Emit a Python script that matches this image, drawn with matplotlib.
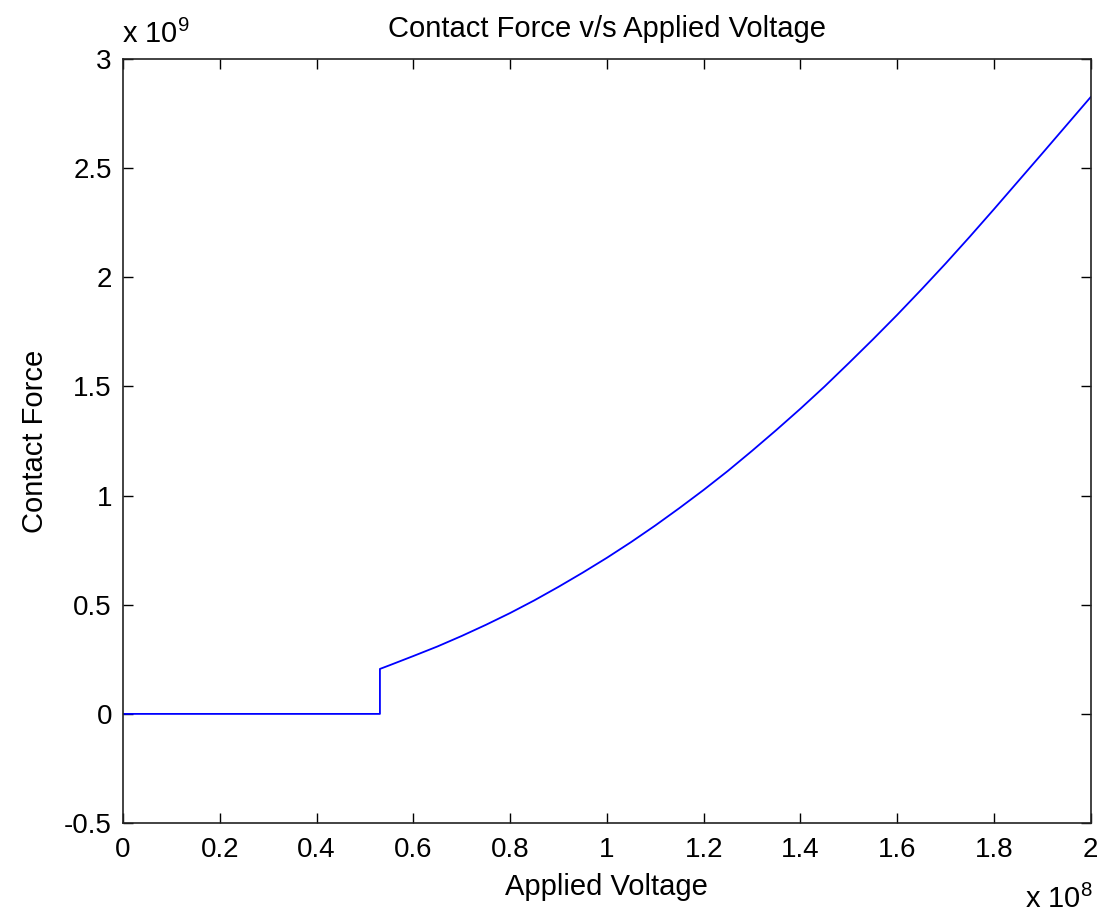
import matplotlib
matplotlib.use("Agg")
import matplotlib.pyplot as plt

# ── Data (voltage in units of 1e8, force in units of 1e9) ────────────────────
voltage = [0.0, 0.531, 0.531, 0.55, 0.6, 0.65, 0.7, 0.75, 0.8, 0.85, 0.9,
           0.95, 1.0, 1.05, 1.1, 1.15, 1.2, 1.25, 1.3, 1.35, 1.4, 1.45,
           1.5, 1.55, 1.6, 1.65, 1.7, 1.75, 1.8, 1.85, 1.9, 1.95, 2.0]
force = [0.0, 0.0, 0.206, 0.222, 0.265, 0.309, 0.357, 0.408, 0.462, 0.520,
         0.582, 0.647, 0.715, 0.787, 0.863, 0.943, 1.026, 1.113, 1.205,
         1.300, 1.398, 1.500, 1.607, 1.716, 1.828, 1.944, 2.063, 2.186,
         2.312, 2.440, 2.568, 2.697, 2.826]

xticks = [0, 0.2, 0.4, 0.6, 0.8, 1, 1.2, 1.4, 1.6, 1.8, 2]
xtick_labels = ["0", "0.2", "0.4", "0.6", "0.8", "1", "1.2", "1.4", "1.6", "1.8", "2"]
yticks = [-0.5, 0, 0.5, 1, 1.5, 2, 2.5, 3]
ytick_labels = ["-0.5", "0", "0.5", "1", "1.5", "2", "2.5", "3"]

# ── Style ────────────────────────────────────────────────────────────────────
plt.rcParams["font.family"] = ["Liberation Sans", "DejaVu Sans"]
plt.rcParams["mathtext.fontset"] = "custom"
plt.rcParams["mathtext.rm"] = "Liberation Sans"
FS_TICK = 20
FS_LAB = 21

fig = plt.figure(figsize=(11.13, 9.15), dpi=100)
ax = fig.add_axes([0.1105, 0.1005, 0.8695, 0.835])

ax.plot(voltage, force, color="#0000ff", lw=1.3)

ax.set_xlim(0, 2)
ax.set_ylim(-0.5, 3)
ax.set_xticks(xticks)
ax.set_xticklabels(xtick_labels)
ax.set_yticks(yticks)
ax.set_yticklabels(ytick_labels)
ax.tick_params(direction="in", length=7, width=1, top=True, right=True,
               labelsize=FS_TICK)
ax.tick_params(axis="x", pad=10)
ax.tick_params(axis="y", pad=8)
for s in ax.spines.values():
    s.set_linewidth(1.2)
    s.set_color("#222222")

ax.set_title("Contact Force v/s Applied Voltage", fontsize=FS_LAB, pad=16)
ax.set_xlabel("Applied Voltage", fontsize=FS_LAB, labelpad=7)
ax.set_ylabel("Contact Force", fontsize=FS_LAB, labelpad=11)

# exponent labels
fig.text(122 / 1113, 1 - 43 / 915, r"x 10$^{\mathrm{9}}$", fontsize=FS_LAB,
         ha="left", va="baseline")
fig.text(1093 / 1113, 1 - 908 / 915, r"x 10$^{\mathrm{8}}$", fontsize=FS_LAB,
         ha="right", va="baseline")

fig.savefig("out.png", dpi=100, facecolor="white")
